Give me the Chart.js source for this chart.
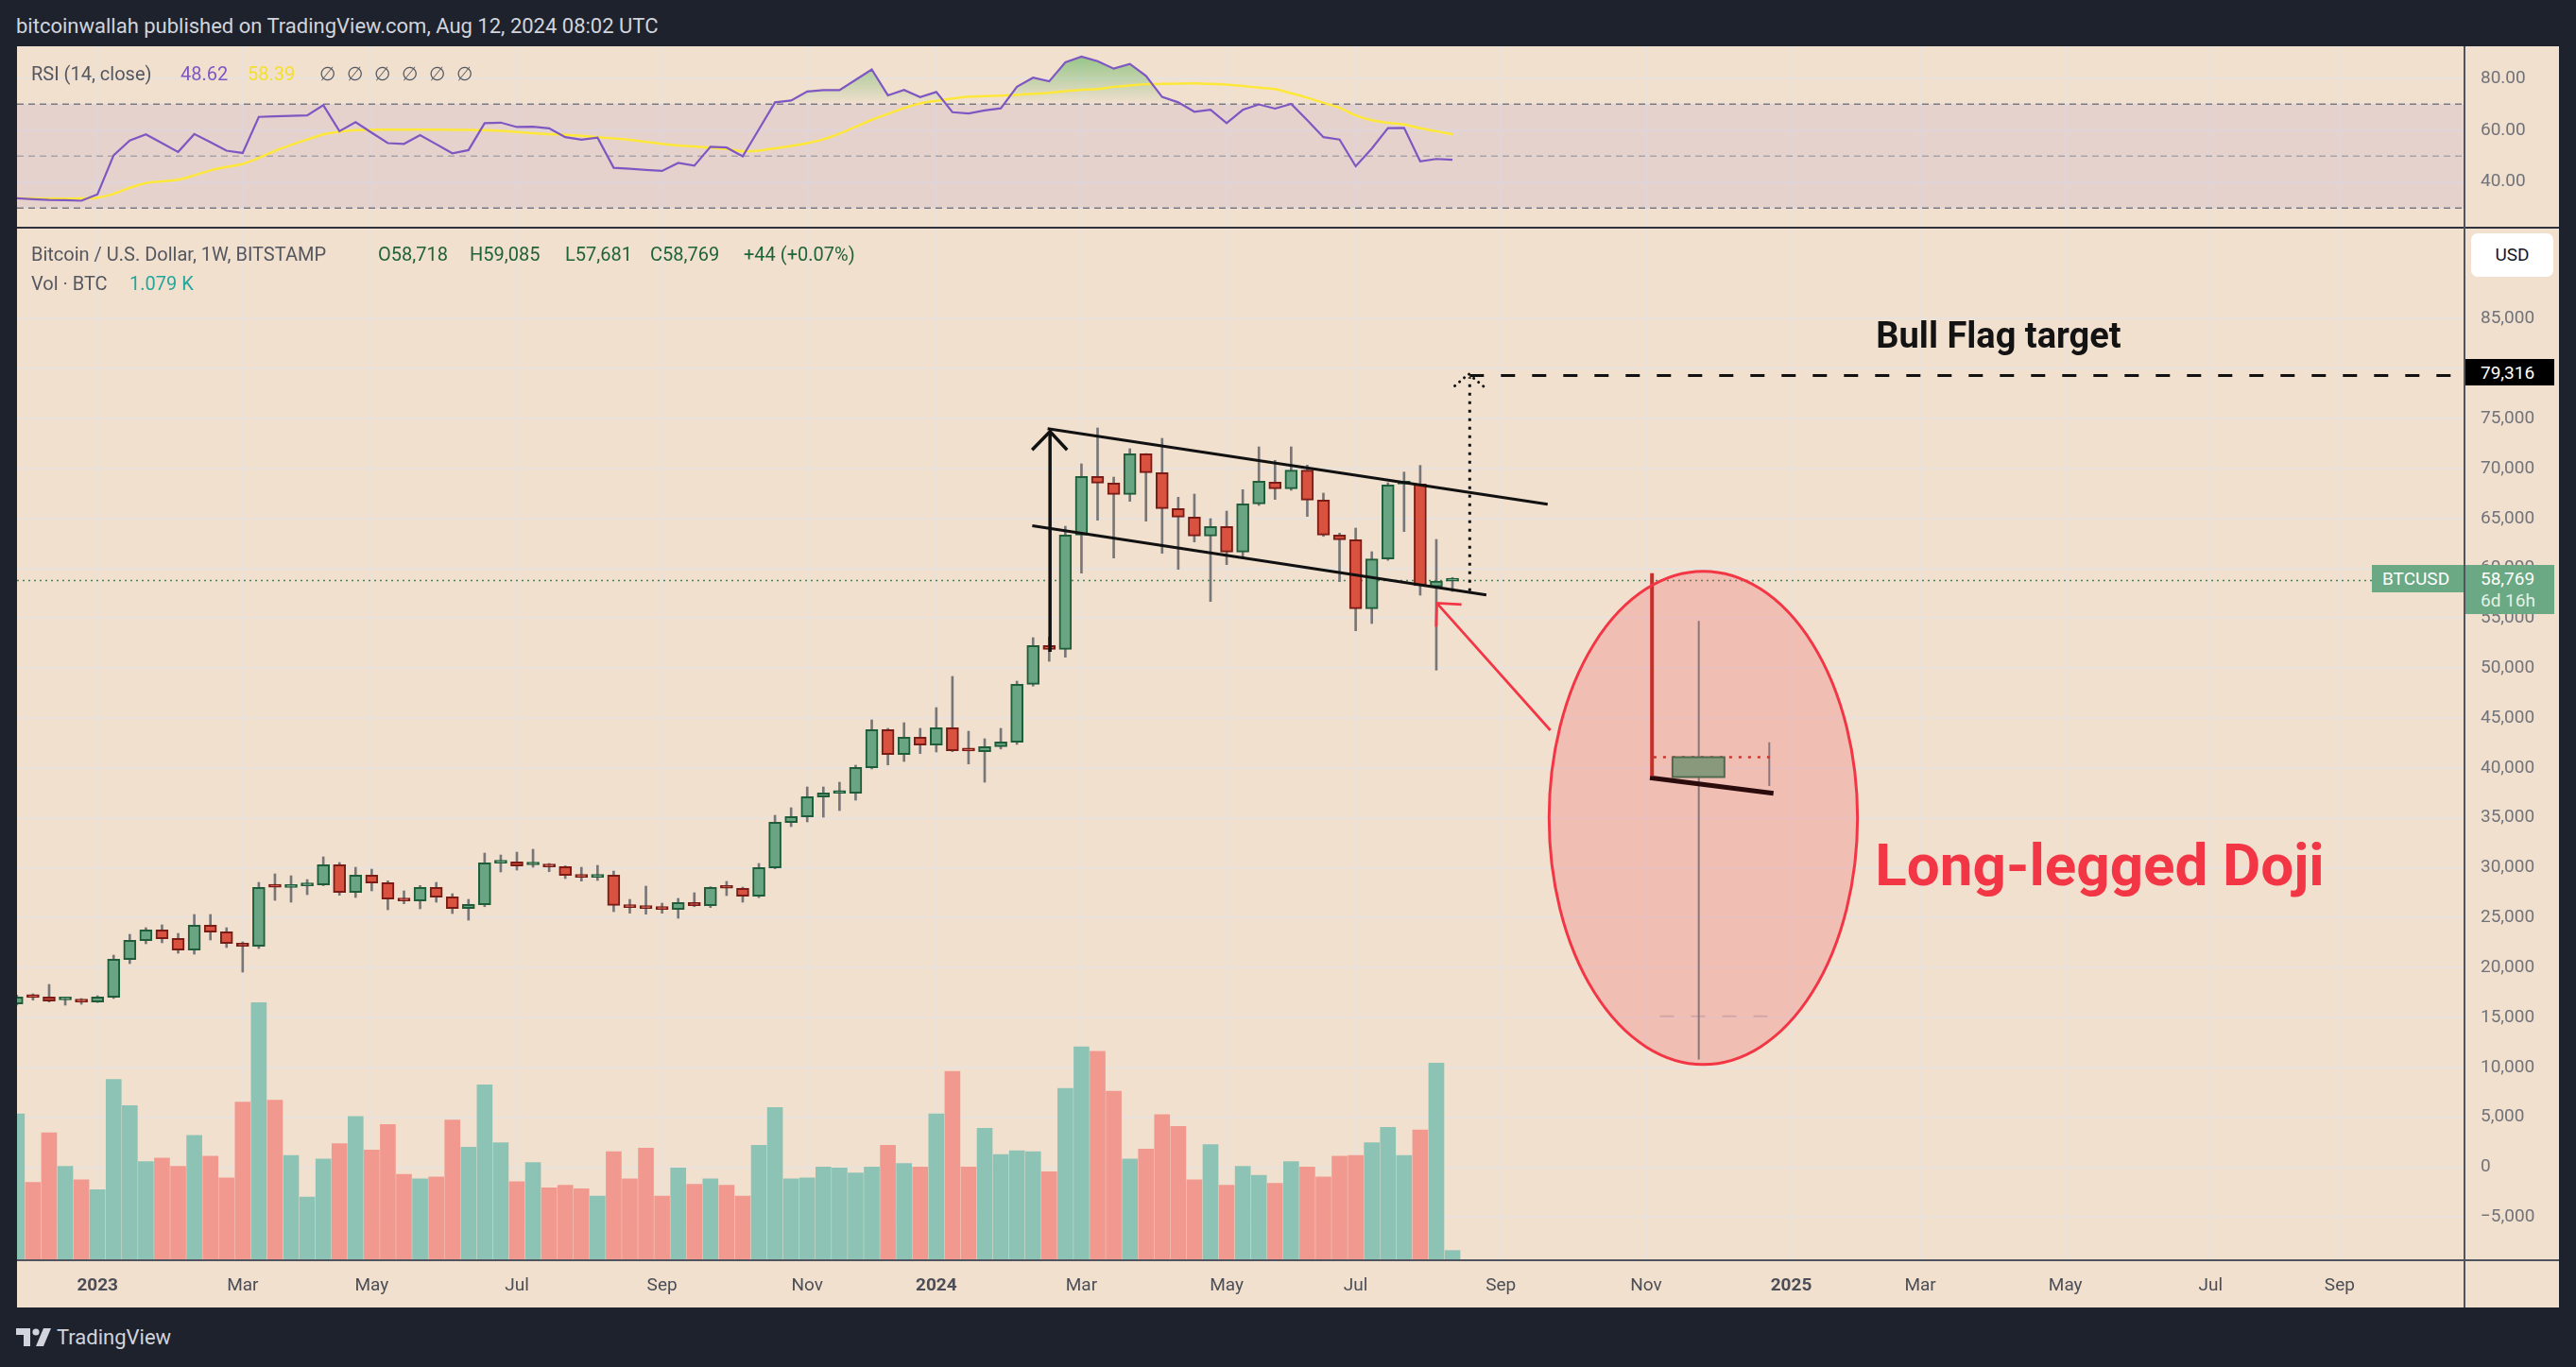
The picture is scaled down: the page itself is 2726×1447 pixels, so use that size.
<!DOCTYPE html>
<html>
<head>
<meta charset="utf-8">
<script src="https://cdn.jsdelivr.net/npm/chart.js@4.4.1/dist/chart.umd.min.js"></script>
<style>
  html, body { margin: 0; padding: 0; background: #1e222d; }
  body { width: 2726px; height: 1447px; position: relative; overflow: hidden; font-family: Roboto, "Noto Sans", sans-serif; }
  .abs { position: absolute; white-space: nowrap; }
  .t { position: absolute; white-space: nowrap; line-height: 1; transform: translateY(-50%); }
  #panel { left: 18px; top: 49px; width: 2690px; height: 1335px; background: #f2e0cf; }
  #rsiCanvas { position: absolute; left: 18px; top: 49px; }
  #mainCanvas { position: absolute; left: 18px; top: 242px; }
  .line { position: absolute; background: #50545e; }
  .lg { font-size: 20px; color: #54575f; }
  .box { position: absolute; color: #fff; font-size: 19px; line-height: 1; }
</style>
</head>
<body>
<div class="abs" id="panel"></div>
<canvas id="rsiCanvas" width="2690" height="191"></canvas>
<canvas id="mainCanvas" width="2690" height="1142"></canvas>

<div class="line" style="left:18px;top:240px;width:2690px;height:2px;background:#2f323c"></div>
<div class="line" style="left:18px;top:1333px;width:2690px;height:2px;"></div>
<div class="line" style="left:2607px;top:49px;width:2px;height:1335px;"></div>

<div class="t" style="left:17px;top:28px;font-size:22px;color:#d1d4dc">bitcoinwallah published on TradingView.com, Aug 12, 2024 08:02 UTC</div>

<div class="t lg" style="left:33px;top:78px">RSI (14, close)</div>
<div class="t lg" style="left:191px;top:78px;color:#7e57c2">48.62</div>
<div class="t lg" style="left:262px;top:78px;color:#f3df2c">58.39</div>
<div class="t lg" style="left:338px;top:78px;letter-spacing:12px">∅∅∅∅∅∅</div>

<div class="t lg" style="left:33px;top:269px">Bitcoin / U.S. Dollar, 1W, BITSTAMP</div>
<div class="t lg" style="left:400px;top:269px;color:#1f6338">O58,718</div>
<div class="t lg" style="left:497px;top:269px;color:#1f6338">H59,085</div>
<div class="t lg" style="left:598px;top:269px;color:#1f6338">L57,681</div>
<div class="t lg" style="left:688px;top:269px;color:#1f6338">C58,769</div>
<div class="t lg" style="left:787px;top:269px;color:#1f6338">+44 (+0.07%)</div>
<div class="t lg" style="left:33px;top:300px">Vol · BTC</div>
<div class="t lg" style="left:137px;top:300px;color:#26a69a">1.079 K</div>

<div class="abs" style="left:2615px;top:247px;width:87px;height:46px;background:#fff;border-radius:7px;font-size:19px;color:#131722;line-height:46px;text-align:center">USD</div>
<div class="box" style="left:2609px;top:380px;width:94px;height:28px;background:#000;"><span style="position:absolute;left:16px;top:5px">79,316</span></div>
<div class="box" style="left:2510px;top:598px;width:97px;height:29px;background:#6aa984;"><span style="position:absolute;left:11px;top:5px">BTCUSD</span></div>
<div class="box" style="left:2609px;top:598px;width:94px;height:52px;background:#6aa984;"><span style="position:absolute;left:16px;top:5px">58,769</span><span style="position:absolute;left:16px;top:28px;color:#e4f1e8">6d 16h</span></div>

<div class="abs" style="left:2115px;top:355px;transform:translate(-50%,-50%);font-size:38px;font-weight:bold;color:#131313;line-height:1">Bull Flag target</div>
<div class="abs" style="left:2222px;top:916px;transform:translate(-50%,-50%);font-size:62px;font-weight:bold;color:#f23645;line-height:1">Long-legged Doji</div>

<svg class="abs" style="left:17px;top:1406px" width="38" height="19" viewBox="0 0 38 19">
  <path d="M0 0 H15 V19 H8 V7 H0 Z" fill="#d1d4dc"/>
  <circle cx="21" cy="4" r="3.6" fill="#d1d4dc"/>
  <path d="M29 0 H37 L29 19 H21 Z" fill="#d1d4dc"/>
</svg>
<div class="t" style="left:60px;top:1416px;font-size:22px;color:#d1d4dc">TradingView</div>

<script>
// weekly candles, first one is the week of 28 Nov 2022 (week 0 = 2 Jan 2023)
const firstWeek = -5;
const opens = [
  16359, 17053, 17053, 16760, 16770, 16548, 17021, 20808, 22700, 23773,
  22921, 21754, 24246, 23584, 22448, 22132, 28127, 28032, 28190, 28285,
  30304, 27528, 29262, 28505, 26897, 26676, 28032, 27086, 25918, 26297,
  30462, 30588, 30290, 30305, 30115, 29263, 29043, 29263, 26235, 26046,
  25951, 25825, 26519, 26203, 28034, 27939, 27150, 29990, 34532, 35100,
  37088, 37460, 37467, 40022, 43840, 41347, 43083, 42294, 44029, 41760,
  41631, 42136, 42578, 48383, 52264, 51886, 63338, 69207, 68544, 67408,
  71478, 69585, 65988, 65137, 63244, 64190, 61634, 66462, 68639, 67976,
  69838, 66840, 63338, 62865, 55956, 60940, 68450, 68450, 58150, 58718
];
const highs = [
  17250, 17368, 18315, 16990, 16895, 17180, 21249, 23331, 23994, 24278,
  23426, 25319, 25319, 23994, 22574, 28537, 29389, 29200, 28820, 31093,
  30525, 30051, 29862, 28695, 27685, 28222, 28537, 27401, 26833, 31471,
  31282, 31566, 31851, 30431, 30200, 30052, 30242, 29674, 26834, 28160,
  26456, 26929, 27497, 28100, 28633, 28066, 30431, 35258, 36015, 38098,
  38098, 38571, 40275, 44818, 43966, 44534, 43966, 46048, 49172, 43682,
  42925, 43966, 48698, 53053, 53116, 64221, 70468, 74065, 69143, 71983,
  71500, 73024, 67124, 67440, 64979, 65736, 67881, 72172, 70815, 72172,
  70342, 67534, 63527, 64032, 61666, 68576, 69648, 70311, 62896, 59085
];
const lows = [
  16250, 16738, 16548, 16232, 16327, 16500, 16900, 20397, 22385, 22480,
  21438, 21343, 22763, 22006, 19545, 21911, 26739, 26550, 27307, 28200,
  27244, 27023, 27685, 25792, 26392, 25887, 26550, 25414, 24751, 26100,
  29578, 29768, 30052, 29611, 28917, 28665, 28728, 25604, 25446, 25352,
  25446, 24941, 26100, 26014, 27213, 26550, 27000, 29900, 34122, 34595,
  35069, 35731, 36773, 39900, 40306, 40653, 41442, 41600, 41631, 40401,
  38571, 41900, 42357, 48200, 50687, 51096, 59520, 64821, 61035, 66714,
  64726, 61508, 59899, 62644, 56681, 60372, 61003, 66304, 66903, 67818,
  65200, 63200, 58669, 53747, 54473, 60800, 63685, 57312, 49803, 57681
];
const closes = [
  17053, 17000, 16643, 16790, 16548, 17053, 20839, 22732, 23773, 22890,
  21754, 24246, 23552, 22417, 22132, 28032, 28050, 28222, 28350, 30304,
  27528, 29262, 28474, 26865, 26676, 28032, 27054, 25918, 26329, 30493,
  30620, 30178, 30340, 30084, 29232, 29043, 29263, 26235, 26014, 25920,
  25825, 26519, 26203, 28034, 27950, 27150, 30021, 34564, 35132, 37120,
  37498, 37500, 40054, 43840, 41347, 43083, 42294, 44029, 41726, 41700,
  42136, 42609, 48383, 52264, 51886, 63338, 69207, 68544, 67408, 71478,
  69585, 65988, 65137, 63244, 64190, 61634, 66462, 68734, 67976, 69838,
  66840, 63338, 62865, 55956, 60940, 68355, 68545, 58258, 58718, 58769
];
// volume, thousands of BTC
const volumes = [
  16.2, 8.6, 14.1, 10.4, 8.9, 7.8, 20.0, 17.1, 10.9, 11.3,
  10.4, 13.8, 11.5, 9.1, 17.5, 28.5, 17.7, 11.6, 7.0, 11.2,
  12.9, 15.9, 12.2, 15.0, 9.5, 9.0, 9.2, 15.5, 12.5, 19.4,
  13.0, 8.7, 10.8, 8.0, 8.3, 7.9, 7.1, 12.0, 9.0, 12.4,
  7.1, 10.2, 8.4, 9.0, 8.3, 7.1, 12.7, 16.9, 9.0, 9.1,
  10.3, 10.2, 9.65, 10.3, 12.7, 10.7, 10.3, 16.2, 20.9, 10.3,
  14.6, 11.7, 12.1, 12.0, 9.8, 19.0, 23.6, 23.1, 18.7, 11.2,
  12.3, 16.1, 14.8, 8.9, 12.8, 8.3, 10.4, 9.4, 8.5, 10.9,
  10.3, 9.2, 11.5, 11.6, 13.0, 14.7, 11.6, 14.4, 21.8, 1.079
];
const rsiValues = [
  33.8, 33.4, 33.1, 33.0, 32.8, 35.3, 50.3, 56.0, 58.4, 55.0,
  51.6, 58.5, 55.4, 52.1, 51.2, 65.1, 65.3, 65.5, 65.7, 69.6,
  59.6, 63.1, 59.0, 55.0, 54.7, 58.1, 54.6, 51.1, 52.3, 62.7,
  62.9, 61.2, 61.3, 60.7, 57.3, 56.3, 57.1, 45.5, 45.1, 44.7,
  44.3, 47.4, 46.3, 53.6, 53.3, 49.9, 60.3, 70.7, 71.4, 74.9,
  75.4, 75.4, 79.4, 83.4, 73.4, 75.5, 72.7, 74.7, 66.9, 66.4,
  67.6, 68.4, 76.7, 80.2, 78.8, 86.1, 88.3, 86.6, 83.7, 85.5,
  80.9, 72.8, 70.7, 67.1, 67.9, 62.7, 67.8, 69.9, 68.3, 70.1,
  63.8, 57.3, 56.4, 46.1, 52.9, 60.8, 60.9, 48.0, 48.9, 48.62
];
const rsiMa = [
  33.8, 33.7, 33.6, 33.6, 33.7, 34.0, 35.5, 37.8, 39.6, 40.3,
  40.9, 42.6, 44.5, 45.8, 47.0, 49.3, 52.0, 54.3, 56.4, 58.4,
  59.4, 60.0, 60.1, 60.2, 60.2, 60.2, 60.2, 60.1, 60.1, 60.0,
  59.7, 59.3, 58.8, 58.5, 58.2, 57.8, 57.3, 56.8, 56.3, 55.5,
  54.7, 54.1, 53.7, 53.3, 52.7, 51.9, 52.1, 53.0, 53.9, 55.0,
  56.5, 58.7, 61.3, 64.0, 66.3, 68.5, 70.3, 71.3, 72.2, 72.9,
  73.1, 73.3, 73.6, 74.0, 74.4, 75.0, 75.6, 75.8, 76.7, 77.2,
  77.7, 77.8, 77.9, 78.0, 77.8, 77.6, 77.0, 76.4, 75.8, 74.2,
  72.5, 70.5, 68.6, 65.7, 63.8, 62.8, 62.2, 60.7, 59.6, 58.39
];

const timeTickWeeks = [0, 9, 17, 26, 35, 44, 52, 61, 70, 78, 87, 96, 105, 113, 122, 131, 139];
const timeTickLabels = ['2023', 'Mar', 'May', 'Jul', 'Sep', 'Nov', '2024', 'Mar', 'May', 'Jul', 'Sep', 'Nov', '2025', 'Mar', 'May', 'Jul', 'Sep'];
const yearLabels = ['2023', '2024', '2025'];
const priceTicks = [-5000, 0, 5000, 10000, 15000, 20000, 25000, 30000, 35000, 40000, 45000,
  50000, 55000, 60000, 65000, 70000, 75000, 80000, 85000];
const rsiTicks = [40, 60, 80];
const rsiLevels = [70, 50, 30];

// drawings, in (week, price)
const flagUpper = [[58.9, 74000], [89.9, 66430]];
const flagLower = [[57.95, 64260], [86.1, 57330]];
const poleLine = [[59.05, 51630], [59.05, 73650]];
const poleHead = [[57.94, 71860], [59.05, 73700], [60.11, 71860]];
const targetPrice = 79316;
const targetStem = [[85.07, 57720], [85.07, 79150]];
const targetHead = [[84.15, 78280], [85.0, 79480], [86.03, 78090]];
const dojiArrow = [[90.07, 43776], [83.03, 56518]];
const dojiArrowHead = [[84.56, 56375], [83.03, 56518], [82.99, 54160]];
const dojiCircle = { center: [99.55, 35000], radius: [9.56, 24704] };
const insetStem = [[96.37, 59508], [96.37, 39186]];
const insetSlope = [[96.24, 39025], [103.9, 37463]];
const insetBody = [[97.64, 41079], [100.86, 39091]];
const insetWick = [[99.27, 54728], [99.27, 10800]];
const insetTop = [[96.47, 41079], [103.9, 41079]];
const insetTick = [[103.64, 42574], [103.64, 38192]];
const insetLow = [[96.86, 15116], [103.9, 15116]];

const weeks = opens.map((o, i) => firstWeek + i);
const lastClose = closes[closes.length - 1];
const xMin = -4.99, xMax = 146.74;
const yMin = -9323, yMax = 94037, volMax = 114.1;

const upFill = '#6aa583', upLine = '#1e5c3a', downFill = '#d9513f', downLine = '#7a1c16';
const gridColor = '#e9e2dc';
Chart.defaults.font.family = 'Roboto, "Noto Sans", sans-serif';
Chart.defaults.animation = false;

function noPadding(s) {
  s.paddingTop = 0;
  s.paddingBottom = 0;
  s.paddingLeft = 0;
  s.paddingRight = 0;
}

function xAxis(showLabels) {
  return {
    type: 'linear', min: xMin, max: xMax, offset: false,
    afterBuildTicks: (s) => { s.ticks = timeTickWeeks.map((v) => ({ value: v })); },
    afterFit: (s) => { s.height = showLabels ? 50 : 0; noPadding(s); },
    grid: { color: gridColor, lineWidth: 2, drawTicks: false, offset: false },
    border: { display: false },
    ticks: {
      display: showLabels, autoSkip: false, maxRotation: 0, padding: 16, color: '#4b4e56',
      font: (c) => ({ size: 19, weight: c.tick && yearLabels.includes(timeTickLabels[c.index]) ? 'bold' : 'normal' }),
      callback: (v, i) => timeTickLabels[i]
    }
  };
}

function pt(chart, p) {
  return [chart.scales.x.getPixelForValue(p[0]), chart.scales.y.getPixelForValue(p[1])];
}

function strokePath(ctx, chart, pts, color, width, dash, cap) {
  ctx.save();
  ctx.strokeStyle = color;
  ctx.lineWidth = width;
  ctx.setLineDash(dash || []);
  ctx.lineCap = cap || 'butt';
  ctx.beginPath();
  pts.forEach((p, i) => {
    const [X, Y] = pt(chart, p);
    if (i) ctx.lineTo(X, Y); else ctx.moveTo(X, Y);
  });
  ctx.stroke();
  ctx.restore();
}

// RSI pane
const rsiBands = {
  id: 'rsiBands',
  beforeDatasetsDraw(chart) {
    const { ctx, chartArea: a, scales: { y } } = chart;
    const y70 = y.getPixelForValue(70), y30 = y.getPixelForValue(30);
    ctx.save();
    ctx.fillStyle = 'rgba(126, 87, 194, 0.1)';
    ctx.fillRect(a.left, y70, a.width, y30 - y70);
    // overbought zone
    const pts = chart.getDatasetMeta(0).data;
    ctx.beginPath();
    ctx.rect(a.left, a.top, a.width, y70 - a.top);
    ctx.clip();
    ctx.beginPath();
    ctx.moveTo(pts[0].x, y70);
    pts.forEach((p) => ctx.lineTo(p.x, p.y));
    ctx.lineTo(pts[pts.length - 1].x, y70);
    ctx.closePath();
    const g = ctx.createLinearGradient(0, y.getPixelForValue(90), 0, y70);
    g.addColorStop(0, 'rgba(76, 175, 80, 0.6)');
    g.addColorStop(1, 'rgba(76, 175, 80, 0)');
    ctx.fillStyle = g;
    ctx.fill();
    ctx.restore();
    rsiLevels.forEach((lv) => {
      const yy = y.getPixelForValue(lv);
      ctx.save();
      ctx.strokeStyle = lv === 50 ? 'rgba(120,123,134,0.55)' : '#787b86';
      ctx.lineWidth = 1.5;
      ctx.setLineDash([7, 5]);
      ctx.beginPath();
      ctx.moveTo(a.left, yy);
      ctx.lineTo(a.right, yy);
      ctx.stroke();
      ctx.restore();
    });
  }
};

new Chart(document.getElementById('rsiCanvas'), {
  type: 'line',
  data: {
    datasets: [
      { label: 'RSI', data: weeks.map((w, i) => ({ x: w, y: rsiValues[i] })), borderColor: '#7e57c2', borderWidth: 2.2, pointRadius: 0, tension: 0 },
      { label: 'RSI MA', data: weeks.map((w, i) => ({ x: w, y: rsiMa[i] })), borderColor: '#fde83a', borderWidth: 2.5, pointRadius: 0, tension: 0.3 }
    ]
  },
  options: {
    responsive: false,
    layout: { padding: 0 },
    plugins: { legend: { display: false }, tooltip: { enabled: false } },
    scales: {
      x: xAxis(false),
      y: {
        type: 'linear', position: 'right', min: 22.8, max: 92.3,
        afterBuildTicks: (s) => { s.ticks = rsiTicks.map((v) => ({ value: v })); },
        afterFit: (s) => { s.width = 100; noPadding(s); },
        grid: { color: gridColor, lineWidth: 2, drawTicks: false },
        border: { display: false },
        ticks: { padding: 17, color: '#707379', font: { size: 19 }, callback: (v) => v.toFixed(2) }
      }
    }
  },
  plugins: [rsiBands]
});

// price pane drawings
const drawings = {
  id: 'drawings',
  beforeDatasetsDraw(chart) {
    const { ctx, chartArea: a } = chart;
    const yy = chart.scales.y.getPixelForValue(lastClose);
    ctx.save();
    ctx.strokeStyle = 'rgba(38, 120, 72, 0.85)';
    ctx.lineWidth = 1.5;
    ctx.setLineDash([2, 4]);
    ctx.beginPath();
    ctx.moveTo(a.left, yy);
    ctx.lineTo(a.right, yy);
    ctx.stroke();
    ctx.restore();
  },
  afterDatasetsDraw(chart) {
    const { ctx, chartArea: a } = chart;
    ctx.save();
    ctx.beginPath();
    ctx.rect(a.left, a.top, a.width, a.height);
    ctx.clip();

    // circled doji close-up
    const [cx, cy] = pt(chart, dojiCircle.center);
    const [ex, ey] = pt(chart, [dojiCircle.center[0] + dojiCircle.radius[0], dojiCircle.center[1] - dojiCircle.radius[1]]);
    const rx = ex - cx, ry = ey - cy;
    ctx.beginPath();
    ctx.ellipse(cx, cy, rx, ry, 0, 0, Math.PI * 2);
    ctx.fillStyle = 'rgba(242, 54, 69, 0.2)';
    ctx.fill();

    strokePath(ctx, chart, insetLow, '#d6a7a2', 2, [15, 18]);
    strokePath(ctx, chart, insetWick, '#8d747a', 2);
    strokePath(ctx, chart, insetTick, '#8d747a', 2);
    strokePath(ctx, chart, insetTop, '#c43a33', 2.5, [3, 7]);
    const [bx1, by1] = pt(chart, insetBody[0]);
    const [bx2, by2] = pt(chart, insetBody[1]);
    ctx.fillStyle = '#889a7b';
    ctx.fillRect(bx1, by1, bx2 - bx1, by2 - by1);
    ctx.strokeStyle = '#4f6a4f';
    ctx.lineWidth = 2;
    ctx.strokeRect(bx1, by1, bx2 - bx1, by2 - by1);
    strokePath(ctx, chart, insetSlope, '#2b0b0b', 5);
    strokePath(ctx, chart, insetStem, '#c8312b', 4);

    ctx.beginPath();
    ctx.ellipse(cx, cy, rx, ry, 0, 0, Math.PI * 2);
    ctx.strokeStyle = '#f23645';
    ctx.lineWidth = 3;
    ctx.stroke();

    // bull flag
    strokePath(ctx, chart, flagUpper, '#111', 3);
    strokePath(ctx, chart, flagLower, '#111', 3);
    strokePath(ctx, chart, poleLine, '#111', 3.5);
    strokePath(ctx, chart, poleHead, '#111', 3.5);

    // target
    strokePath(ctx, chart, targetStem, '#111', 3, [3, 6]);
    strokePath(ctx, chart, targetHead, '#111', 3, [0.1, 6.5], 'round');
    strokePath(ctx, chart, [[targetStem[0][0], targetPrice], [xMax, targetPrice]], '#111', 3, [15, 18]);

    // arrow to the doji
    strokePath(ctx, chart, dojiArrow, '#f23645', 2.8);
    strokePath(ctx, chart, dojiArrowHead, '#f23645', 2.8);
    ctx.restore();
  }
};

const up = weeks.map((w, i) => closes[i] >= opens[i]);

new Chart(document.getElementById('mainCanvas'), {
  type: 'bar',
  data: {
    datasets: [
      {
        label: 'Vol', yAxisID: 'yv', order: 3, grouped: false, barThickness: 16, borderWidth: 0,
        data: weeks.map((w, i) => ({ x: w, y: volumes[i] })),
        backgroundColor: up.map((u) => (u ? '#8cc3b4' : '#f1998f'))
      },
      {
        label: 'Wick', yAxisID: 'y', order: 2, grouped: false, barThickness: 2, borderWidth: 0,
        data: weeks.map((w, i) => ({ x: w, y: [lows[i], highs[i]] })),
        backgroundColor: '#777779'
      },
      {
        label: 'BTCUSD', yAxisID: 'y', order: 1, grouped: false, barThickness: 13, minBarLength: 3,
        borderWidth: 2, borderSkipped: false,
        data: weeks.map((w, i) => ({ x: w, y: [opens[i], closes[i]] })),
        backgroundColor: up.map((u) => (u ? upFill : downFill)),
        borderColor: up.map((u) => (u ? upLine : downLine))
      }
    ]
  },
  options: {
    responsive: false,
    layout: { padding: 0 },
    plugins: { legend: { display: false }, tooltip: { enabled: false } },
    datasets: { bar: { clip: 0 } },
    scales: {
      x: xAxis(true),
      y: {
        type: 'linear', position: 'right', min: yMin, max: yMax,
        afterBuildTicks: (s) => { s.ticks = priceTicks.map((v) => ({ value: v })); },
        afterFit: (s) => { s.width = 100; noPadding(s); },
        grid: { color: gridColor, lineWidth: 2, drawTicks: false },
        border: { display: false },
        ticks: {
          padding: 17, color: '#707379', font: { size: 19 },
          callback: (v) => (v < 0 ? '\u2212' + Math.abs(v).toLocaleString('en-US') : v.toLocaleString('en-US'))
        }
      },
      yv: { type: 'linear', display: false, min: 0, max: volMax, afterFit: noPadding }
    }
  },
  plugins: [drawings]
});
</script>
</body>
</html>
